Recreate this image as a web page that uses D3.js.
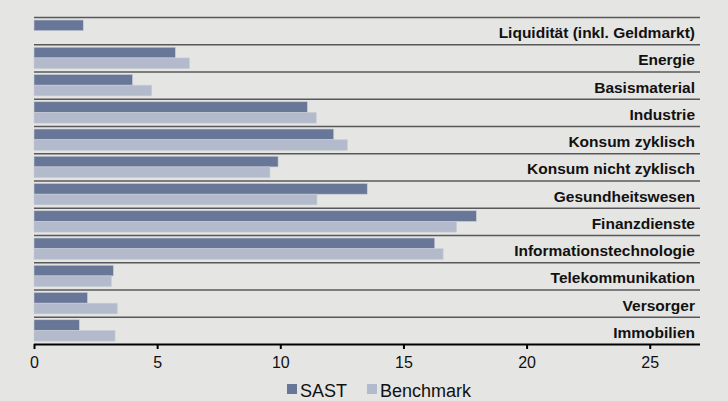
<!DOCTYPE html>
<html>
<head>
<meta charset="utf-8">
<script src="https://cdn.jsdelivr.net/npm/d3@7"></script>
<style>
  html, body { margin: 0; padding: 0; background: #e5e5e3; }
  svg { display: block; }
  text { font-family: "Liberation Sans", Arial, Helvetica, sans-serif; }
</style>
</head>
<body>
<svg id="chart" width="728" height="401"></svg>
<script>
const categories = [
  "Liquidität (inkl. Geldmarkt)", "Energie", "Basismaterial", "Industrie",
  "Konsum zyklisch", "Konsum nicht zyklisch", "Gesundheitswesen", "Finanzdienste",
  "Informationstechnologie", "Telekommunikation", "Versorger", "Immobilien"
];
const seriesNames = ["SAST", "Benchmark"];
const sastValues = [2.0, 5.74, 4.0, 11.1, 12.17, 9.91, 13.53, 17.96, 16.27, 3.22, 2.17, 1.84];
const benchmarkValues = [0, 6.31, 4.78, 11.46, 12.72, 9.58, 11.49, 17.16, 16.61, 3.14, 3.38, 3.29];
const tickValues = [0, 5, 10, 15, 20, 25];
const colors = ["#687797", "#b3bacb"];

(function () {
const svg = d3.select("#chart");
const mLeft = 34, mRight = 700, mTop = 17, mBottom = 344;

const x = d3.scaleLinear().domain([0, 27]).range([mLeft, mLeft + 27 * 24.63]);
const y = d3.scaleBand().domain(categories).range([mTop, mBottom]).padding(0);
const ys = d3.scaleBand().domain(seriesNames).range([3, y.bandwidth() - 2.9]).padding(0);

const data = categories.map((c, i) => ({ cat: c, vals: [sastValues[i], benchmarkValues[i]] }));

// separator lines
svg.append("g").selectAll("line").data(categories).join("line")
  .attr("x1", mLeft).attr("x2", mRight)
  .attr("y1", d => y(d) + 0.5).attr("y2", d => y(d) + 0.5)
  .attr("stroke", "#58585a").attr("stroke-width", 1.6);

// bars
const rows = svg.append("g").selectAll("g").data(data).join("g")
  .attr("transform", d => `translate(0,${y(d.cat)})`);
rows.selectAll("rect").data(d => d.vals.map((v, j) => ({ v, s: seriesNames[j], j })).filter(e => e.v > 0))
  .join("rect")
  .attr("x", x(0))
  .attr("y", e => ys(e.s))
  .attr("width", e => x(e.v) - x(0))
  .attr("height", ys.bandwidth())
  .attr("fill", e => colors[e.j])
  .attr("stroke", "#c9cdd6").attr("stroke-width", 0.6);

// category labels
svg.append("g").selectAll("text").data(categories).join("text")
  .attr("x", 695).attr("y", d => y(d) + 21)
  .attr("text-anchor", "end")
  .attr("font-size", 15.5).attr("font-weight", "bold").attr("fill", "#111")
  .text(d => d);

// x axis
const axis = d3.axisBottom(x).tickValues(tickValues).tickSize(5).tickSizeOuter(0).tickFormat(d3.format("d"));
const gx = svg.append("g").attr("transform", `translate(0,${mBottom})`).call(axis);
gx.select(".domain").attr("d", `M${mLeft},0.5H${mRight}`).attr("stroke", "#000").attr("stroke-width", 2.2);
gx.selectAll(".tick line").attr("stroke", "#000").attr("stroke-width", 2);
gx.selectAll(".tick text").attr("font-size", 16).attr("fill", "#111").attr("dy", 0).attr("y", 24)
  .attr("font-family", "'Liberation Sans', Arial, sans-serif");

// legend
const legendItems = [{ name: "SAST", x: 287 }, { name: "Benchmark", x: 367 }];
const lg = svg.append("g").selectAll("g").data(legendItems).join("g")
  .attr("transform", d => `translate(${d.x},384)`);
lg.append("rect").attr("width", 10).attr("height", 10).attr("fill", (d, i) => colors[i]);
lg.append("text").attr("x", 13).attr("y", 12.5).attr("font-size", 18).attr("fill", "#111").text(d => d.name);
})();
</script>
</body>
</html>
